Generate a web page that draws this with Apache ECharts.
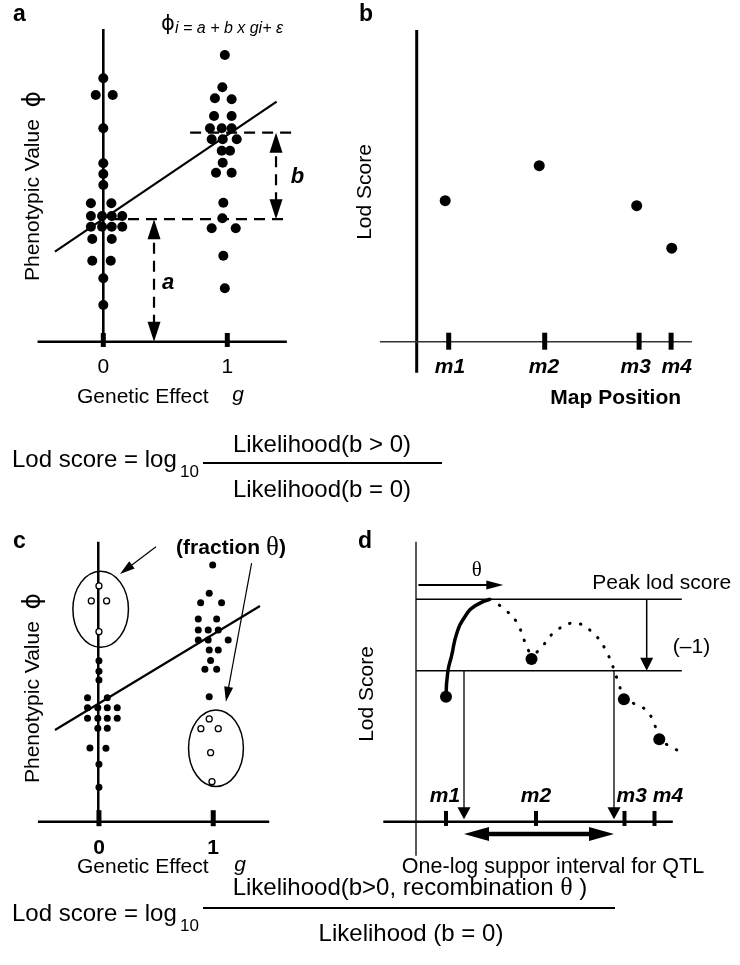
<!DOCTYPE html>
<html>
<head>
<meta charset="utf-8">
<script src="https://cdn.jsdelivr.net/npm/echarts@6.0.0/dist/echarts.min.js"></script>
<style>
  html, body { margin: 0; padding: 0; background: #fff; }
  #chart { width: 740px; height: 965px; }
</style>
</head>
<body>
<div id="chart"></div>
<script>
// ---------- data ----------
// Panel a: phenotypic value by genotype (x = genotype 0/1 with a little jitter)
const aGroup0 = [[0,105.4],[-0.061,98.7],[0.076,98.7],[0,85.4],[0,71.4],[0,67.1],[0,62.7],
  [-0.10,55.4],[0.065,55.4],
  [-0.10,50.3],[-0.01,50.3],[0.068,50.3],[0.153,50.3],
  [-0.10,46],[-0.01,46],[0.068,46],[0.153,46],
  [-0.089,41.1],[0.068,41.1],[-0.089,32.4],[0.06,32.4],[0,25.4],[0,14.7]];
const aGroup1 = [[0.98,114.7],[0.96,101.8],[0.90,97.4],[1.035,97],[0.893,90.3],[1.035,90.3],
  [0.86,85.4],[0.955,85.4],[1.035,85.4],
  [0.874,81],[0.963,81],[1.076,81],
  [0.955,76.4],[1.022,76.4],[0.963,71.6],[0.909,67.6],[1.035,67.6],
  [0.968,55.6],[0.96,49.4],[0.874,45.4],[1.068,45.4],[0.968,34.4],[0.98,21.4]];
const aRegression = [[-0.39,36],[1.398,96]];
const aIntercept = 49;      // a
const aGroup1Mean = 83.6;   // a + b

// Panel b: single-marker lod scores
const markerNames = ['m1','m2','m3','m4'];
const markerPos = [10, 40, 69.5, 79.5];
const bLod = [[8.9,56.4],[38.3,70.4],[68.75,54.4],[79.7,37.4]];

// Panel c: recombinant individuals (open) among each genotype class
const cGroup0 = [[0,64.4],[0,60.2],[0,56.7],[-0.10,49.6],[0.073,49.6],
  [-0.10,45.6],[-0.01,45.6],[0.073,45.6],[0.16,45.6],
  [-0.10,41.4],[-0.01,41.4],[0.073,41.4],[0.16,41.4],
  [-0.01,37.4],[0.073,37.4],[-0.079,29.5],[0.061,29.4],[0,23],[0,13.8]];
const cGroup0Recomb = [[0,94.3],[-0.067,88.3],[0.067,88.3],[0,76]];
const cGroup1 = [[0.995,102.7],[0.965,91.4],[0.89,87.6],[1.073,87.6],[0.869,81.1],[1.03,81.1],
  [0.869,76.7],[0.956,76.7],[1.044,76.7],[0.869,72.7],[0.956,72.7],[1.131,72.7],
  [0.965,68.7],[1.044,68.7],[0.977,64.5],[0.927,61],[1.03,61],[0.965,50]];
const cGroup1Recomb = [[0.965,41.1],[0.892,37.2],[1.044,37.2],[0.977,27.6],[0.989,16]];
const cRegression = [[-0.385,36.7],[1.409,86.3]];
// ellipse: centre x, centre y, radius x, radius y
const cGroupRings = [[0.015,85,0.243,15.2],[1.024,29.4,0.24,15.3]];

// Panel d: interval-mapping lod profile
const dLod = [[10,50],[38.5,65.1],[69.3,49],[81.1,33]];
const dRise = [[10,50],[10.6,60],[11.9,66.5],[13.6,75.4],[16.3,82],[19.7,86.4],[24.7,89]];
const dProfile = [[24.7,89],[29,85.5],[33.6,79.8],[36.3,72],[38.8,67],[41.1,68.7],[46.3,76],
  [52.8,79.5],[59.1,75.4],[63.6,67.8],[67.4,56],[69.3,50],[73,47],[76.7,44.7],[79,40.5],
  [81.1,34],[84.7,30],[88.8,28]];
const dPeak = 89;
const dDrop = 60.4;          // peak minus one lod unit
const dSupport = [16, 66];   // one-lod support interval

// ---------- helpers ----------
const FONT = "'Liberation Sans', Arial, Helvetica, sans-serif";
const SERIF = "'Liberation Serif', 'DejaVu Serif', serif";
const PHI = "'DejaVu Sans', sans-serif";

function grid(left, top, width, height) { return { left, top, width, height, containLabel: false }; }
function axis(min, max, idx) { return { type: 'value', min, max, show: false, gridIndex: idx }; }

// straight segments, optionally with filled arrowheads
function segs(g, items, o) {
  o = o || {};
  return {
    type: 'custom', xAxisIndex: g, yAxisIndex: g, silent: true, clip: false,
    data: items, encode: { x: [0, 2], y: [1, 3] }, z: o.z || 3,
    renderItem: function (params, api) {
      const p1 = api.coord([api.value(0), api.value(1)]);
      const p2 = api.coord([api.value(2), api.value(3)]);
      const dx = p2[0] - p1[0], dy = p2[1] - p1[1];
      const len = Math.hypot(dx, dy) || 1;
      const ux = dx / len, uy = dy / len;
      const hl = o.headLen || 0, hw = o.headWidth || 0;
      let a = p1, b = p2;
      if (o.start) a = [p1[0] + ux * hl * 0.8, p1[1] + uy * hl * 0.8];
      if (o.end) b = [p2[0] - ux * hl * 0.8, p2[1] - uy * hl * 0.8];
      const kids = [{
        type: 'line', shape: { x1: a[0], y1: a[1], x2: b[0], y2: b[1] },
        style: { stroke: o.color || '#000', lineWidth: o.width || 1.5, lineDash: o.dash || null, fill: null }
      }];
      function head(tip, vx, vy) {
        const bx = tip[0] - vx * hl, by = tip[1] - vy * hl;
        const px = -vy * hw / 2, py = vx * hw / 2;
        return { type: 'polygon', shape: { points: [tip, [bx + px, by + py], [bx - px, by - py]] },
                 style: { fill: '#000', stroke: null } };
      }
      if (o.end) kids.push(head(p2, ux, uy));
      if (o.start) kids.push(head(p1, -ux, -uy));
      return { type: 'group', children: kids };
    }
  };
}
function dots(g, data, size, open) {
  return {
    type: 'scatter', xAxisIndex: g, yAxisIndex: g, data, symbol: 'circle', symbolSize: size,
    silent: true, z: 5,
    itemStyle: open ? { color: '#fff', borderColor: '#000', borderWidth: 1.3, opacity: 1 }
                    : { color: '#000', opacity: 1 }
  };
}
function ticks(g, xs, y, size) {
  return {
    type: 'scatter', xAxisIndex: g, yAxisIndex: g, data: xs.map(x => [x, y]),
    symbol: 'rect', symbolSize: size, silent: true, z: 4, itemStyle: { color: '#000', opacity: 1 }
  };
}
function curve(g, data, width, style) {
  return {
    type: 'line', xAxisIndex: g, yAxisIndex: g, data, showSymbol: false, symbol: 'none',
    smooth: style.smooth || 0, silent: true, z: 3,
    lineStyle: Object.assign({ color: '#000', width, opacity: 1 }, style.line || {})
  };
}
function txt(text, x, y, o) {
  o = o || {};
  const st = {
    text, fill: '#000', fontFamily: o.family || FONT, fontSize: o.size || 21,
    fontWeight: o.weight || 'normal', fontStyle: o.italic ? 'italic' : 'normal',
    align: o.align || 'center', verticalAlign: 'middle',
    textAlign: o.align || 'center', textVerticalAlign: 'middle'
  };
  if (o.rich) st.rich = o.rich;
  return { type: 'text', x, y, rotation: o.rot || 0, silent: true, style: st };
}
const phenoRich = {
  a: { fontFamily: FONT, fontSize: 21, fill: '#000' },
  p: { fontFamily: PHI, fontSize: 25, fill: '#000' }
};
const formulaRich = {
  a: { fontFamily: FONT, fontSize: 24, fill: '#000' },
  t: { fontFamily: SERIF, fontSize: 26, fill: '#000' }
};

// ---------- chart ----------
const chart = echarts.init(document.getElementById('chart'), null, { renderer: 'canvas' });

const graphics = [
  // panel letters
  txt('a', 13, 15, { weight: 'bold', size: 23, align: 'left' }),
  txt('b', 359, 15, { weight: 'bold', size: 23, align: 'left' }),
  txt('c', 13, 542, { weight: 'bold', size: 23, align: 'left' }),
  txt('d', 358, 542, { weight: 'bold', size: 23, align: 'left' }),

  // panel a
  txt('\u03D5', 168, 25, { size: 21, family: PHI }),
  txt('i = a + b x gi+ \u03B5', 175, 29, { size: 16, italic: true, align: 'left' }),
  txt('{a|Phenotypic Value  }{p|\u03D5}', 33, 186, { rot: Math.PI / 2, rich: phenoRich }),
  txt('0', 103.3, 367), txt('1', 227.3, 367),
  txt('Genetic Effect', 77, 397, { align: 'left' }),
  txt('g', 238, 395, { italic: true }),
  txt('a', 168, 283, { weight: 'bold', italic: true, size: 22 }),
  txt('b', 297.5, 177, { weight: 'bold', italic: true, size: 22 }),

  // panel b
  txt('Lod Score', 365, 192, { rot: Math.PI / 2 }),
  txt(markerNames[0], 450, 367, { weight: 'bold', italic: true }),
  txt(markerNames[1], 544, 367, { weight: 'bold', italic: true }),
  txt(markerNames[2], 635.7, 367, { weight: 'bold', italic: true }),
  txt(markerNames[3], 676.7, 367, { weight: 'bold', italic: true }),
  txt('Map Position', 615.7, 398, { weight: 'bold' }),

  // first lod formula
  txt('Lod score = log', 12, 460, { size: 24, align: 'left' }),
  txt('10', 180, 472, { size: 17, align: 'left' }),
  txt('Likelihood(b > 0)', 322, 445, { size: 24 }),
  txt('Likelihood(b = 0)', 322, 490, { size: 24 }),

  // panel c
  txt('{a|(fraction }{t|\u03B8}{a|)}', 231, 548, { rich: {
      a: { fontFamily: FONT, fontSize: 21, fontWeight: 'bold', fill: '#000' },
      t: { fontFamily: SERIF, fontSize: 27, fontWeight: 'normal', fill: '#000' } } }),
  txt('{a|Phenotypic Value  }{p|\u03D5}', 33, 688, { rot: Math.PI / 2, rich: phenoRich }),
  txt('0', 99, 848, { weight: 'bold' }), txt('1', 213, 848, { weight: 'bold' }),
  txt('Genetic Effect', 77, 867, { align: 'left' }),
  txt('g', 240, 865, { italic: true }),

  // panel d
  txt('Lod Score', 367, 694, { rot: Math.PI / 2 }),
  txt('\u03B8', 476.7, 570, { family: SERIF, size: 21 }),
  txt('Peak lod score', 661.7, 583),
  txt('(\u20131)', 691.5, 647),
  txt(markerNames[0], 445, 796, { weight: 'bold', italic: true }),
  txt(markerNames[1], 536, 796, { weight: 'bold', italic: true }),
  txt(markerNames[2], 631.7, 796, { weight: 'bold', italic: true }),
  txt(markerNames[3], 668, 796, { weight: 'bold', italic: true }),
  txt('One-log suppor interval for QTL', 553, 867, { size: 21.5 }),

  // second lod formula
  txt('Lod score = log', 12, 914, { size: 24, align: 'left' }),
  txt('10', 180, 926, { size: 17, align: 'left' }),
  txt('{a|Likelihood(b>0, recombination }{t|\u03B8}{a| )}', 410, 888, { rich: formulaRich }),
  txt('Likelihood (b = 0)', 411, 934, { size: 24 }),

  // fraction bars
  { type: 'line', silent: true, shape: { x1: 203, y1: 463, x2: 442, y2: 463 }, style: { stroke: '#000', lineWidth: 2 } },
  { type: 'line', silent: true, shape: { x1: 203, y1: 908, x2: 615, y2: 908 }, style: { stroke: '#000', lineWidth: 2 } }
];

const option = {
  animation: false,
  backgroundColor: '#fff',
  grid: [
    grid(35.1, 29.2, 266.6, 312.5),   // a
    grid(378.3, 29.2, 320, 345),      // b
    grid(36.1, 539.2, 245.7, 282.5),  // c
    grid(380, 539.2, 306, 317.5)      // d
  ],
  xAxis: [axis(-0.55, 1.6, 0), axis(-12, 88, 1), axis(-0.55, 1.6, 2), axis(-12, 90, 3)],
  yAxis: [axis(0, 125, 0), axis(-13, 125, 1), axis(0, 113, 2), axis(-14, 113, 3)],
  series: [
    // ---- a ----
    segs(0, [[0, 0, 0, 125.1], [-0.53, 0, 1.48, 0]], { width: 2.6 }),
    ticks(0, [0, 1], 0.7, [5, 14]),
    dots(0, aGroup0, 10), dots(0, aGroup1, 10),
    curve(0, aRegression, 2.2, {}),
    segs(0, [[0.054, aIntercept, 1.506, aIntercept], [0.70, aGroup1Mean, 1.56, aGroup1Mean]],
      { width: 2.2, dash: [11, 7] }),
    segs(0, [[0.409, 0, 0.409, aIntercept], [1.393, aIntercept, 1.393, aGroup1Mean]],
      { width: 2.2, dash: [11, 7], start: true, end: true, headLen: 20, headWidth: 13 }),

    // ---- b ----
    segs(1, [[0, -12.4, 0, 124.7]], { width: 3 }),
    segs(1, [[-11.5, 0, 86, 0]], { width: 1.5, color: '#333' }),
    ticks(1, markerPos, 0.2, [5, 17]),
    dots(1, bLod, 11),

    // ---- c ----
    segs(2, [[-0.006, 0, -0.006, 112], [-0.534, 0, 1.49, 0]], { width: 2.5 }),
    ticks(2, [0, 1], 1.4, [5, 16]),
    curve(2, cRegression, 2.2, {}),
    {
      type: 'custom', xAxisIndex: 2, yAxisIndex: 2, data: cGroupRings, encode: { x: 0, y: 1 },
      silent: true, clip: false, z: 4,
      renderItem: function (params, api) {
        const c = api.coord([api.value(0), api.value(1)]);
        const s = api.size([api.value(2), api.value(3)]);
        return { type: 'ellipse', shape: { cx: c[0], cy: c[1], rx: s[0], ry: s[1] },
                 style: { fill: null, stroke: '#000', lineWidth: 1.5 } };
      }
    },
    dots(2, cGroup0, 7), dots(2, cGroup1, 7),
    dots(2, cGroup0Recomb, 6, true), dots(2, cGroup1Recomb, 6, true),
    segs(2, [[0.499, 110, 0.184, 99.1], [1.336, 103.4, 1.111, 48]],
      { width: 1.2, end: true, headLen: 15, headWidth: 9 }),

    // ---- d ----
    segs(3, [[0, -13.6, 0, 112]], { width: 1.3 }),
    segs(3, [[-10.9, 0, 85.6, 0]], { width: 2.5 }),
    segs(3, [[0, dPeak, 88.6, dPeak], [0, dDrop, 88.6, dDrop]], { width: 1.5 }),
    ticks(3, markerPos, 1.3, [4, 15]),
    curve(3, dRise, 3.5, { smooth: 0.5 }),
    curve(3, dProfile, 3, { smooth: 0.4, line: { type: [0.5, 10.5], cap: 'round' } }),
    dots(3, dLod, 12),
    segs(3, [[0.8, 94.7, 29.1, 94.7]], { width: 2, end: true, headLen: 17, headWidth: 9 }),
    segs(3, [[76.9, dPeak, 76.9, dDrop]], { width: 1.5, end: true, headLen: 13, headWidth: 13 }),
    segs(3, [[dSupport[0], dDrop, dSupport[0], 1], [dSupport[1], dDrop, dSupport[1], 1]],
      { width: 1.3, end: true, headLen: 12, headWidth: 13 }),
    segs(3, [[dSupport[0], -4.9, dSupport[1], -4.9]],
      { width: 4.5, start: true, end: true, headLen: 25, headWidth: 14 })
  ],
  graphic: graphics
};
chart.setOption(option);
</script>
</body>
</html>
